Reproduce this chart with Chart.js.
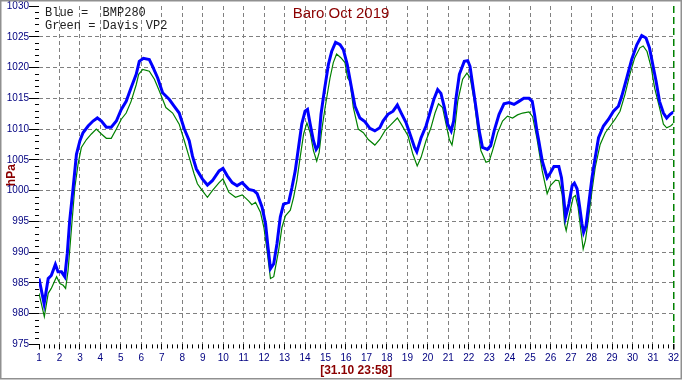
<!DOCTYPE html>
<html>
<head>
<meta charset="utf-8">
<script src="https://cdn.jsdelivr.net/npm/chart.js@4/dist/chart.umd.min.js"></script>
<style>
  html, body { margin: 0; padding: 0; background: #fff; }
  #wrap { width: 682px; height: 380px; }
</style>
</head>
<body>
<div id="wrap"><canvas id="chart-baro" width="682" height="380"></canvas></div>
<script>
  /* ================= DATA ================= */

  const chartTitle = "Baro Oct 2019";
  const legendLines = ["Blue =  BMP280", "Green = Davis VP2"];
  const stampLabel = "[31.10 23:58]";
  const unitLabel = "hPa";

  const dayTicks = [1, 2, 3, 4, 5, 6, 7, 8, 9, 10, 11, 12, 13, 14, 15, 16, 17, 18, 19, 20, 21, 22, 23, 24, 25, 26, 27, 28, 29, 30, 31, 32];
  const hpaTicks = [975, 980, 985, 990, 995, 1000, 1005, 1010, 1015, 1020, 1025, 1030];

  // BMP280 (blue)
  const blueDays = [1.0, 1.25, 1.45, 1.6, 1.8, 1.93, 2.1, 2.26, 2.38, 2.5, 2.67, 2.83, 3.0, 3.15, 3.4, 3.64, 3.85, 4.05, 4.29, 4.53,
    4.78, 5.02, 5.26, 5.5, 5.75, 5.9, 6.1, 6.39, 6.55, 6.8, 7.04, 7.37, 7.61, 7.85, 8.1, 8.34, 8.5, 8.69, 8.98, 9.23,
    9.47, 9.8, 9.99, 10.2, 10.44, 10.68, 10.93, 11.25, 11.5, 11.66, 11.9, 12.07, 12.19, 12.31, 12.47, 12.63, 12.79, 12.95, 13.2, 13.36,
    13.52, 13.68, 13.84, 14.0, 14.12, 14.25, 14.41, 14.54, 14.65, 14.78, 14.94, 15.14, 15.3, 15.49, 15.71, 15.87, 16.06, 16.27, 16.44, 16.68,
    16.92, 17.17, 17.41, 17.65, 17.81, 18.05, 18.3, 18.51, 18.7, 18.94, 19.19, 19.35, 19.46, 19.67, 19.91, 20.08, 20.29, 20.48, 20.64, 20.81,
    20.97, 21.14, 21.26, 21.38, 21.54, 21.78, 21.95, 22.06, 22.19, 22.35, 22.51, 22.67, 22.91, 23.07, 23.24, 23.48, 23.72, 23.97, 24.21, 24.45,
    24.69, 24.94, 25.1, 25.22, 25.34, 25.42, 25.59, 25.83, 25.99, 26.16, 26.4, 26.53, 26.65, 26.73, 26.89, 27.05, 27.16, 27.29, 27.42, 27.53,
    27.61, 27.73, 27.86, 28.02, 28.18, 28.34, 28.58, 28.83, 29.07, 29.31, 29.48, 29.72, 29.96, 30.21, 30.45, 30.66, 30.83, 30.99, 31.15, 31.32,
    31.51, 31.67, 31.84, 32.0];
  const blueHpa = [985.7, 981.6, 985.7, 986.2, 988.0, 986.8, 986.8, 986.0, 989.7, 995.1, 1000.5, 1005.9, 1008.1, 1009.4, 1010.5, 1011.3, 1011.8, 1011.3, 1010.3, 1010.3,
    1011.3, 1013.2, 1014.5, 1016.7, 1018.9, 1021.0, 1021.5, 1021.3, 1020.2, 1018.3, 1015.9, 1014.8, 1013.7, 1012.6, 1010.0, 1008.1, 1005.6, 1003.5, 1001.9, 1000.9,
    1001.6, 1003.2, 1003.6, 1002.4, 1001.3, 1000.8, 1001.3, 1000.2, 1000.0, 999.5, 997.3, 994.6, 990.8, 987.3, 988.1, 991.4, 995.7, 997.8, 998.1, 1000.5,
    1003.2, 1007.0, 1010.8, 1012.9, 1013.2, 1010.8, 1008.1, 1006.7, 1007.3, 1012.4, 1016.2, 1020.5, 1022.6, 1024.1, 1023.7, 1022.9, 1020.5, 1016.7, 1013.7, 1011.8,
    1011.2, 1010.1, 1009.7, 1010.2, 1011.3, 1012.4, 1012.9, 1013.9, 1012.6, 1011.0, 1008.6, 1007.0, 1006.3, 1008.6, 1010.5, 1012.4, 1014.8, 1016.4, 1015.8, 1013.5,
    1010.8, 1009.7, 1011.3, 1015.1, 1018.9, 1021.0, 1021.1, 1020.2, 1017.2, 1013.5, 1009.7, 1007.0, 1006.7, 1007.3, 1009.7, 1012.4, 1014.1, 1014.3, 1014.0, 1014.5,
    1015.0, 1015.0, 1014.5, 1012.2, 1009.5, 1008.1, 1004.8, 1002.1, 1002.9, 1003.9, 1003.9, 1002.1, 998.4, 995.7, 997.8, 1000.8, 1001.2, 1000.3, 997.3, 994.6,
    993.2, 994.3, 997.8, 1002.1, 1005.4, 1008.6, 1010.5, 1011.6, 1012.9, 1013.7, 1015.4, 1018.3, 1021.3, 1023.7, 1025.2, 1024.8, 1023.2, 1020.5, 1017.8, 1014.5,
    1012.6, 1011.8, 1012.4, 1012.8];

  // Davis VP2 (green)
  const greenDays = [1.0, 1.26, 1.45, 1.6, 1.86, 2.02, 2.18, 2.3, 2.42, 2.59, 2.75, 2.91, 3.07, 3.32, 3.56, 3.8, 4.05, 4.29, 4.53, 4.78,
    5.02, 5.26, 5.5, 5.75, 5.87, 6.07, 6.39, 6.64, 6.88, 7.2, 7.53, 7.85, 8.1, 8.34, 8.58, 8.74, 8.98, 9.23, 9.47, 9.8,
    9.99, 10.28, 10.6, 10.93, 11.25, 11.4, 11.58, 11.82, 11.99, 12.14, 12.31, 12.47, 12.71, 12.87, 13.04, 13.28, 13.44, 13.6, 13.76, 13.93,
    14.09, 14.25, 14.41, 14.57, 14.69, 14.81, 14.98, 15.22, 15.38, 15.54, 15.75, 15.95, 16.08, 16.19, 16.36, 16.6, 16.85, 17.09, 17.41, 17.65,
    17.9, 18.22, 18.51, 18.7, 19.03, 19.27, 19.48, 19.67, 19.91, 20.15, 20.35, 20.52, 20.72, 20.89, 21.05, 21.18, 21.3, 21.46, 21.7, 21.91,
    22.07, 22.27, 22.43, 22.59, 22.84, 23.0, 23.16, 23.41, 23.65, 23.89, 24.14, 24.38, 24.63, 24.94, 25.12, 25.33, 25.59, 25.83, 25.99, 26.24,
    26.4, 26.56, 26.68, 26.76, 26.89, 27.1, 27.21, 27.34, 27.46, 27.59, 27.7, 27.86, 28.02, 28.18, 28.42, 28.67, 28.91, 29.15, 29.39, 29.63,
    29.87, 30.11, 30.36, 30.52, 30.71, 30.92, 31.08, 31.32, 31.51, 31.67, 31.86, 32.0];
  const greenHpa = [983.3, 979.5, 983.3, 984.1, 986.0, 984.9, 984.6, 984.1, 987.0, 994.0, 1000.5, 1004.3, 1007.0, 1008.3, 1009.2, 1010.0, 1009.2, 1008.5, 1008.5, 1010.0,
    1011.6, 1012.6, 1014.5, 1017.2, 1018.9, 1019.7, 1019.4, 1018.1, 1016.2, 1013.5, 1012.6, 1010.8, 1008.1, 1005.4, 1002.7, 1001.1, 1000.0, 998.9, 1000.0, 1001.3,
    1001.9, 999.7, 998.9, 999.3, 998.3, 997.7, 998.1, 996.5, 994.0, 990.3, 985.7, 986.0, 990.3, 994.0, 995.9, 996.8, 998.9, 1001.6, 1005.4, 1009.2,
    1011.0, 1009.4, 1006.5, 1004.8, 1006.2, 1009.7, 1013.5, 1018.3, 1020.8, 1022.2, 1021.6, 1020.8, 1018.3, 1017.8, 1013.5, 1010.0, 1009.4, 1008.3, 1007.4, 1008.3,
    1009.7, 1010.8, 1011.8, 1010.8, 1008.9, 1005.9, 1004.0, 1005.4, 1008.1, 1010.2, 1012.6, 1014.1, 1013.5, 1010.8, 1008.3, 1007.4, 1009.7, 1014.5, 1018.1, 1019.1,
    1018.3, 1014.5, 1010.2, 1006.5, 1004.6, 1004.8, 1006.5, 1009.4, 1011.3, 1012.1, 1011.8, 1012.3, 1012.6, 1012.8, 1012.0, 1008.5, 1003.2, 999.5, 1000.8, 1001.7,
    1001.6, 999.4, 994.6, 993.5, 995.7, 998.9, 999.2, 997.3, 994.0, 990.5, 991.9, 995.7, 1000.0, 1003.8, 1007.5, 1009.4, 1010.5, 1011.6, 1012.9, 1015.6,
    1018.9, 1021.6, 1023.2, 1023.5, 1022.6, 1019.9, 1016.7, 1013.5, 1010.8, 1010.2, 1010.5, 1010.9];

  /* ================= STYLE ================= */

  const SANS = "'Liberation Sans', Arial, sans-serif";
  const MONO = "'Liberation Mono', 'Courier New', monospace";
  const TICK_BLUE = "#000080";
  const DARK_RED = "#8b0000";
  const GRID_GRAY = "#808080";

  /* ================= PLUGINS ================= */

  // minor ticks on both axes + texts inside the plot + outer frame
  const decorPlugin = {
    id: "decor",
    afterDraw(chart) {
      const { ctx, chartArea: area, scales: { x, y } } = chart;
      ctx.save();
      ctx.strokeStyle = "#000";
      ctx.lineWidth = 1;
      ctx.beginPath();
      for (let v = hpaTicks[0]; v <= hpaTicks[hpaTicks.length - 1]; v++) {
        if (v % 5 === 0) continue;
        let py = Math.round(y.getPixelForValue(v)) + 0.5;
        ctx.moveTo(area.left - 4, py);
        ctx.lineTo(area.left, py);
      }
      for (let d = dayTicks[0]; d < dayTicks[dayTicks.length - 1]; d++) {
        for (let q = 1; q < 4; q++) {
          let px = Math.round(x.getPixelForValue(d + q / 4)) + 0.5;
          ctx.moveTo(px, area.bottom);
          ctx.lineTo(px, area.bottom + 4);
        }
      }
      ctx.stroke();

      // legend text
      ctx.fillStyle = "#202020";
      ctx.font = "12px " + MONO;
      ctx.textBaseline = "middle";
      ctx.textAlign = "left";
      ctx.fillText(legendLines[0], 45, 13);
      ctx.fillText(legendLines[1], 45, 26);

      // title
      ctx.fillStyle = DARK_RED;
      ctx.font = "15px " + SANS;
      ctx.textAlign = "center";
      ctx.fillText(chartTitle, 341, 14);

      // frame
      ctx.strokeStyle = "#909090";
      ctx.lineWidth = 1.5;
      ctx.strokeRect(0.75, 0.75, 680.5, 378);
      ctx.restore();
    }
  };

  /* ================= CHART ================= */

  let canvasBaro = document.getElementById("chart-baro").getContext("2d");

  let baroChart = new Chart(canvasBaro, {
    type: "line",
    data: {
      datasets: [{
        label: "BMP280",
        data: blueDays.map((d, i) => ({ x: d, y: blueHpa[i] })),
        borderColor: "#0000ff",
        borderWidth: 3,
        pointRadius: 0,
        tension: 0
      }, {
        label: "Davis VP2",
        data: greenDays.map((d, i) => ({ x: d, y: greenHpa[i] })),
        borderColor: "#008000",
        borderWidth: 1.2,
        pointRadius: 0,
        tension: 0
      }]
    },
    options: {
      responsive: false,
      animation: false,
      layout: { padding: { top: 4, right: 5, left: 0, bottom: 0 } },
      plugins: { legend: { display: false }, tooltip: { enabled: false } },
      scales: {
        x: {
          type: "linear",
          min: dayTicks[0],
          max: dayTicks[dayTicks.length - 1],
          afterBuildTicks: (scale) => { scale.ticks = dayTicks.map(v => ({ value: v })); },
          afterFit: (scale) => { scale.height = 35.6; },
          ticks: {
            color: TICK_BLUE,
            font: { family: SANS, size: 10 },
            padding: 3,
            maxRotation: 0,
            autoSkip: false,
            callback: (v) => String(v)
          },
          grid: {
            color: (c) => c.tick && c.tick.value === 1 ? "rgba(0,0,0,0)"
              : c.tick && c.tick.value === 32 ? "#008000" : GRID_GRAY,
            lineWidth: (c) => c.tick && c.tick.value === 32 ? 1.5 : 1,
            tickColor: "#000",
            tickLength: 5
          },
          border: {
            display: false,
            dash: (c) => c.tick && c.tick.value === 32 ? [7, 4] : [4, 3]
          },
          title: {
            display: true,
            text: stampLabel,
            color: DARK_RED,
            font: { family: SANS, size: 12, weight: "bold" },
            padding: { top: 0, bottom: 2 }
          }
        },
        y: {
          min: hpaTicks[0],
          max: hpaTicks[hpaTicks.length - 1],
          afterBuildTicks: (scale) => { scale.ticks = hpaTicks.map(v => ({ value: v })); },
          afterFit: (scale) => { scale.width = 39; },
          ticks: {
            color: TICK_BLUE,
            font: { family: SANS, size: 10 },
            padding: 0,
            callback: (v) => String(v)
          },
          grid: {
            color: (c) => c.tick && (c.tick.value === 975 || c.tick.value === 1030) ? "rgba(0,0,0,0)" : GRID_GRAY,
            tickColor: "#000",
            tickLength: 10
          },
          border: { display: false, dash: [4, 3] },
          title: {
            display: true,
            text: unitLabel,
            color: DARK_RED,
            font: { family: SANS, size: 12, weight: "bold" },
            padding: { top: 4, bottom: 0 }
          }
        }
      }
    },
    plugins: [decorPlugin]
  });
</script>
</body>
</html>
